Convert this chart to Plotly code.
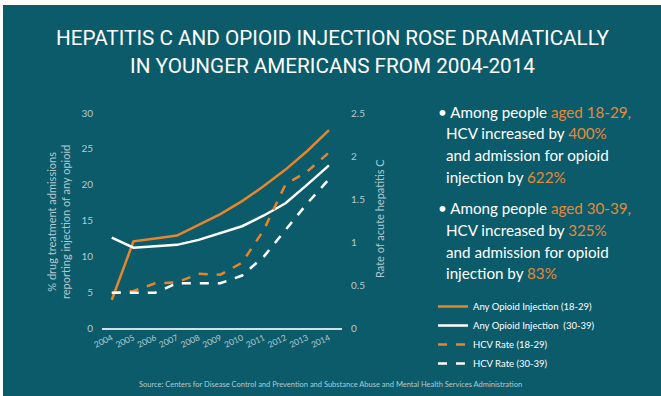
import plotly.graph_objects as go

years = [2004, 2005, 2006, 2007, 2008, 2009, 2010, 2011, 2012, 2013, 2014]
opioid_18_29 = [3.9, 12.1, 12.5, 12.9, 14.4, 15.9, 17.7, 19.8, 22.1, 24.7, 27.6]
opioid_30_39 = [12.6, 11.2, 11.4, 11.6, 12.3, 13.3, 14.2, 15.7, 17.4, 20.0, 22.7]
hcv_18_29 = [0.41, 0.43, 0.52, 0.53, 0.63, 0.62, 0.76, 1.14, 1.67, 1.82, 2.04]
hcv_30_39 = [0.41, 0.41, 0.41, 0.52, 0.52, 0.52, 0.61, 0.83, 1.14, 1.45, 1.73]
left_ticks = [0, 5, 10, 15, 20, 25, 30]
right_ticks = [0, 0.5, 1, 1.5, 2, 2.5]
right_tick_labels = ["0", "0.5", "1", "1.5", "2", "2.5"]

BG = "#0b5b6b"
ORANGE = "#e8852c"
TXT_ORANGE = "#e38a3a"
GREY = "#b4cacf"
TITLE_FONT = "Roboto, Lato, sans-serif"
BODY_FONT = "Lato, Roboto, sans-serif"

W, H = 661, 396
L, R, T, B = 102, 319, 113, 68
PW, PH = W - L - R, H - T - B


def px(x):
    return (x - L) / PW


def py(y):
    return (H - B - y) / PH


fig = go.Figure()
fig.add_trace(go.Scatter(x=years, y=opioid_18_29, mode="lines", name="Any Opioid Injection (18-29)",
                         line=dict(color=ORANGE, width=2.5)))
fig.add_trace(go.Scatter(x=years, y=opioid_30_39, mode="lines", name="Any Opioid Injection  (30-39)",
                         line=dict(color="white", width=2.5)))
fig.add_trace(go.Scatter(x=years, y=hcv_18_29, mode="lines", name="HCV Rate (18-29)", yaxis="y2",
                         line=dict(color=ORANGE, width=2.5, dash="dash")))
fig.add_trace(go.Scatter(x=years, y=hcv_30_39, mode="lines", name="HCV Rate (30-39)", yaxis="y2",
                         line=dict(color="white", width=2.5, dash="dash")))

annotations = []


def ann(text, x, y, size, color, family=BODY_FONT, xanchor="center", angle=0):
    annotations.append(dict(text=text, x=px(x), y=py(y), xref="paper", yref="paper", showarrow=False,
                            xanchor=xanchor, yanchor="middle", textangle=angle,
                            font=dict(family=family, size=size, color=color)))


# title
ann("HEPATITIS C AND OPIOID INJECTION ROSE DRAMATICALLY", 332, 38, 20.7, "white", TITLE_FONT)
ann("IN YOUNGER AMERICANS FROM 2004-2014", 332, 66, 20.7, "white", TITLE_FONT)
# axis titles
ann("% drug treatment admissions<br>reporting injection of any opioid", 58, 222, 11, GREY, angle=-90)
ann("Rate of acute hepatitis C", 379, 219, 11, GREY, angle=-90)

o = lambda s: f"<span style='color:{TXT_ORANGE}'>{s}</span>"
bullet_lines = [
    (436, 112, "• Among people " + o("aged 18-29,")),
    (444, 133, "HCV increased by " + o("400%")),
    (444, 155, "and admission for opioid"),
    (444, 177, "injection by " + o("622%")),
    (436, 208, "• Among people " + o("aged 30-39,")),
    (444, 230, "HCV increased by " + o("325%")),
    (444, 252, "and admission for opioid"),
    (444, 273, "injection by " + o("83%")),
]
for bx, by, t in bullet_lines:
    ann(t, bx, by, 15.2, "white", xanchor="left")
ann("Source: Centers for Disease Control and Prevention and Substance Abuse and Mental Health Services Administration",
    330, 384, 7.5, GREY)

shapes = [
    dict(type="rect", xref="paper", yref="paper", x0=px(0), x1=px(661), y0=py(0), y1=py(5),
         fillcolor="white", line=dict(width=0), layer="above"),
    dict(type="rect", xref="paper", yref="paper", x0=px(0), x1=px(3), y0=py(0), y1=py(396),
         fillcolor="white", line=dict(width=0), layer="above"),
]

fig.update_layout(
    width=W, height=H,
    margin=dict(l=L, r=R, t=T, b=B, autoexpand=False),
    paper_bgcolor=BG, plot_bgcolor=BG,
    showlegend=True,
    legend=dict(x=px(433), y=py(292), xanchor="left", yanchor="top", bgcolor="rgba(0,0,0,0)",
                font=dict(family=BODY_FONT, size=9.5, color="white"), tracegroupgap=0),
    xaxis=dict(range=[2003.55, 2014.6], tickvals=years, ticktext=[str(y) for y in years],
               tickangle=-25, showgrid=False, zeroline=False, showline=True,
               linecolor="#d2e0e3", linewidth=1.5, ticks="",
               tickfont=dict(family=BODY_FONT, size=8.5, color=GREY)),
    yaxis=dict(range=[0, 30], tickvals=left_ticks, showgrid=False, zeroline=False, showline=False,
               ticks="", ticklabelstandoff=8,
               tickfont=dict(family=BODY_FONT, size=10, color=GREY)),
    yaxis2=dict(range=[0, 2.5], tickvals=right_ticks, ticktext=right_tick_labels, overlaying="y",
                side="right", showgrid=False, zeroline=False, showline=False, ticks="",
                ticklabelstandoff=8, tickfont=dict(family=BODY_FONT, size=10, color=GREY)),
    annotations=annotations,
    shapes=shapes,
)

fig.write_html("out.html", config={"displayModeBar": False},
               post_script="document.body.style.margin='0';document.body.style.padding='0';")
